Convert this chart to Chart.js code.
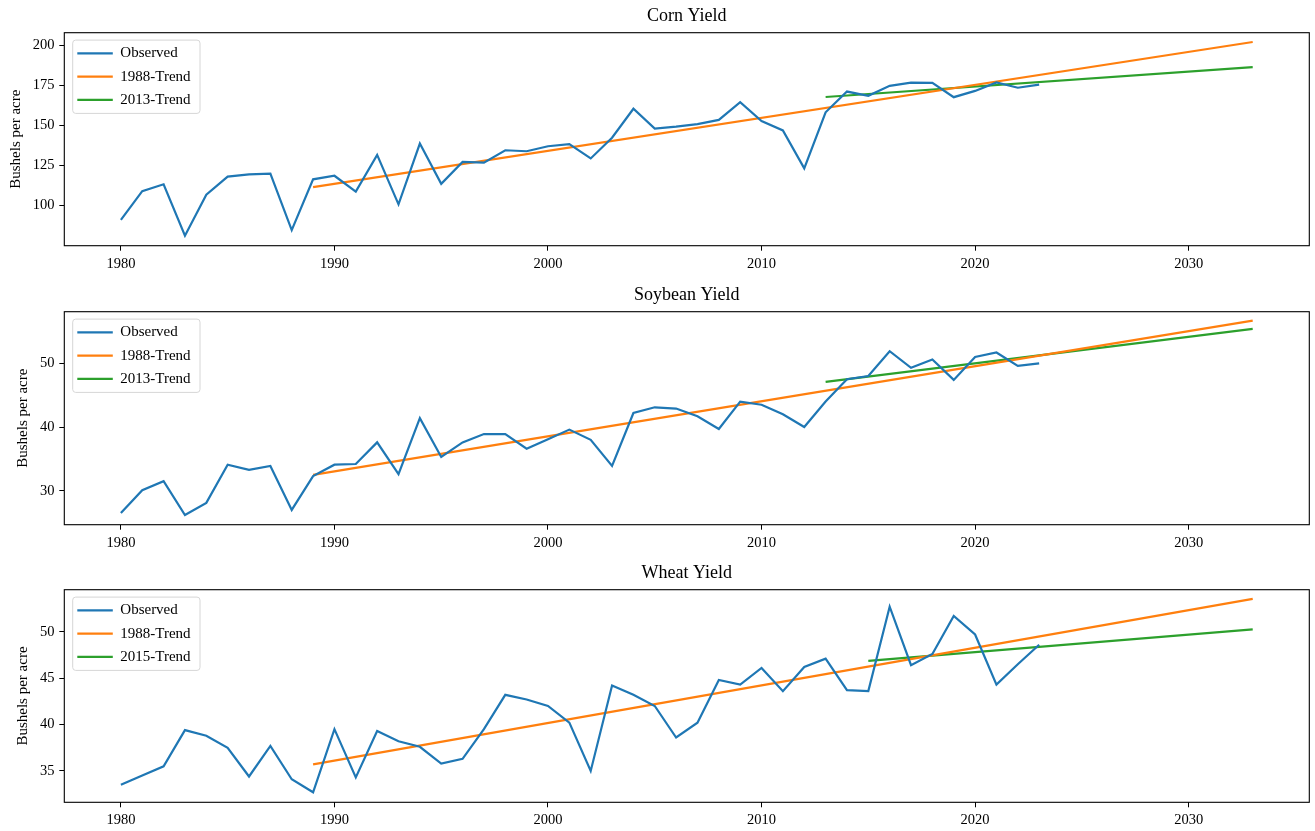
<!DOCTYPE html>
<html>
<head>
<meta charset="utf-8">
<script src="https://cdn.jsdelivr.net/npm/chart.js@4"></script>
<style>
  html, body { margin: 0; padding: 0; background: #fff; width: 1315px; height: 831px; overflow: hidden; }
  .panel { position: absolute; left: 0; width: 1315px; }
  canvas { display: block; }
</style>
</head>
<body>
<div class="panel" style="top:0px"><canvas id="c1" width="1315" height="274"></canvas></div>
<div class="panel" style="top:279px"><canvas id="c2" width="1315" height="274"></canvas></div>
<div class="panel" style="top:557px"><canvas id="c3" width="1315" height="274"></canvas></div>
<script>
// ---------- data ----------
const years = [1980, 1981, 1982, 1983, 1984, 1985, 1986, 1987, 1988, 1989,
               1990, 1991, 1992, 1993, 1994, 1995, 1996, 1997, 1998, 1999,
               2000, 2001, 2002, 2003, 2004, 2005, 2006, 2007, 2008, 2009,
               2010, 2011, 2012, 2013, 2014, 2015, 2016, 2017, 2018, 2019,
               2020, 2021, 2022, 2023];

const cornObserved = [91.0, 108.9, 113.2, 81.1, 106.7, 118.0, 119.4, 119.8, 84.6, 116.3,
                      118.5, 108.6, 131.5, 100.7, 138.6, 113.5, 127.1, 126.7, 134.4, 133.8,
                      136.9, 138.2, 129.3, 142.2, 160.3, 147.9, 149.1, 150.7, 153.3, 164.4,
                      152.6, 146.8, 123.1, 158.1, 171.0, 168.4, 174.6, 176.6, 176.4, 167.5,
                      171.4, 176.7, 173.4, 175.3];

const soyObserved = [26.5, 30.1, 31.5, 26.2, 28.1, 34.1, 33.3, 33.9, 27.0, 32.3,
                     34.1, 34.2, 37.6, 32.6, 41.4, 35.3, 37.6, 38.9, 38.9, 36.6,
                     38.1, 39.6, 38.0, 33.9, 42.2, 43.1, 42.9, 41.7, 39.7, 44.0,
                     43.5, 42.0, 40.0, 44.0, 47.5, 48.0, 51.9, 49.3, 50.6, 47.4,
                     51.0, 51.7, 49.6, 50.0];

const wheatObserved = [33.5, 34.5, 35.5, 39.4, 38.8, 37.5, 34.4, 37.7, 34.1, 32.7,
                       39.5, 34.3, 39.3, 38.2, 37.6, 35.8, 36.3, 39.5, 43.2, 42.7,
                       42.0, 40.2, 35.0, 44.2, 43.2, 42.0, 38.6, 40.2, 44.8, 44.3,
                       46.1, 43.6, 46.2, 47.1, 43.7, 43.6, 52.7, 46.4, 47.6, 51.7,
                       49.7, 44.3, 46.5, 48.6];

// trend lines (start year, end year) and their values
const trend1988Years = [1989, 2033];
const trend2013Years = [2013, 2033];
const trend2015Years = [2015, 2033];

const cornTrend1988 = [111.4, 201.9];
const cornTrend2013 = [167.6, 186.2];
const soyTrend1988 = [32.5, 56.7];
const soyTrend2013 = [47.1, 55.4];
const wheatTrend1988 = [35.7, 53.55];
const wheatTrend2015 = [46.85, 50.25];

// tick labels
const xTicks = [1980, 1990, 2000, 2010, 2020, 2030];
const cornYTicks = [100, 125, 150, 175, 200];
const soyYTicks = [30, 40, 50];
const wheatYTicks = [35, 40, 45, 50];

const titles = ['Corn Yield', 'Soybean Yield', 'Wheat Yield'];
const yLabel = 'Bushels per acre';
const seriesLabels = ['Observed', '1988-Trend'];
const lateTrendLabels = ['2013-Trend', '2013-Trend', '2015-Trend'];

// ---------- style ----------
const FONT = '"Liberation Serif", "Times New Roman", Times, serif';
const BLUE = '#1f77b4', ORANGE = '#ff7f0e', GREEN = '#2ca02c';

const toXY = (xs, ys) => xs.map((x, i) => ({ x: x, y: ys[i] }));

const framePlugin = {
  id: 'mplFrame',
  afterLayout(chart) {
    const ca = chart.chartArea;
    const lg = chart.legend;
    if (lg) {
      lg.left = ca.left + 4.7;
      lg.top = ca.top + 4.8;
      lg.right = lg.left + 200;
      lg.bottom = ca.bottom;
      lg.width = 200;
      lg.height = ca.bottom - lg.top;
    }
  },
  beforeDraw(chart) {
    const ca = chart.chartArea;
    const ctx = chart.ctx;
    const x = ca.left + 8.4, y = ca.top + 7.4, w = 127.3, h = 73.3, r = 3;
    ctx.save();
    ctx.beginPath();
    ctx.moveTo(x + r, y);
    ctx.lineTo(x + w - r, y);
    ctx.arcTo(x + w, y, x + w, y + r, r);
    ctx.lineTo(x + w, y + h - r);
    ctx.arcTo(x + w, y + h, x + w - r, y + h, r);
    ctx.lineTo(x + r, y + h);
    ctx.arcTo(x, y + h, x, y + h - r, r);
    ctx.lineTo(x, y + r);
    ctx.arcTo(x, y, x + r, y, r);
    ctx.closePath();
    ctx.fillStyle = 'rgba(255,255,255,0.8)';
    ctx.fill();
    ctx.strokeStyle = '#d6d6d6';
    ctx.lineWidth = 1;
    ctx.stroke();
    ctx.restore();
  },
  afterDatasetsDraw(chart) {
    const ca = chart.chartArea;
    const ctx = chart.ctx;
    ctx.save();
    ctx.strokeStyle = '#000';
    ctx.lineWidth = 1.1;
    ctx.strokeRect(ca.left, ca.top, ca.right - ca.left, ca.bottom - ca.top);
    ctx.restore();
  }
};

function makePanel(id, idx, obs, t1, t2Years, t2, yTicks, yMin, yMax, xAxisH, yTitlePad) {
  const ctx = document.getElementById(id).getContext('2d');
  return new Chart(ctx, {
    type: 'line',
    data: {
      datasets: [
        { label: seriesLabels[0], data: toXY(years, obs), borderColor: BLUE, backgroundColor: BLUE },
        { label: seriesLabels[1], data: toXY(trend1988Years, t1), borderColor: ORANGE, backgroundColor: ORANGE },
        { label: lateTrendLabels[idx], data: toXY(t2Years, t2), borderColor: GREEN, backgroundColor: GREEN }
      ]
    },
    options: {
      responsive: false,
      devicePixelRatio: 1,
      animation: false,
      events: [],
      layout: { padding: { left: 0, right: 5.7, top: 0, bottom: 0 } },
      elements: {
        line: { borderWidth: 2.2, tension: 0, fill: false, borderCapStyle: 'butt', borderJoinStyle: 'miter' },
        point: { radius: 0, hoverRadius: 0 }
      },
      scales: {
        x: {
          type: 'linear',
          min: 1977.35,
          max: 2035.65,
          afterBuildTicks: (s) => { s.ticks = xTicks.map(v => ({ value: v })); },
          afterFit: (s) => { s.height = xAxisH; },
          grid: { display: true, drawOnChartArea: false, drawTicks: true, tickLength: 5, color: '#000', lineWidth: 1 },
          border: { display: false },
          ticks: { color: '#000', font: { family: FONT, size: 14.5 }, padding: 4.6, maxRotation: 0, autoSkip: false,
                   callback: (v) => String(v) }
        },
        y: {
          type: 'linear',
          min: yMin,
          max: yMax,
          afterBuildTicks: (s) => { s.ticks = yTicks.map(v => ({ value: v })); },
          afterFit: (s) => { s.width = 64.3; },
          grid: { display: true, drawOnChartArea: false, drawTicks: true, tickLength: 5, color: '#000', lineWidth: 1 },
          border: { display: false },
          ticks: { color: '#000', font: { family: FONT, size: 14.5 }, padding: 4.8, autoSkip: false,
                   callback: (v) => String(v) },
          title: { display: true, text: yLabel, color: '#000', font: { family: FONT, size: 15 },
                   padding: { top: yTitlePad, bottom: 0 } }
        }
      },
      plugins: {
        title: {
          display: true, text: titles[idx], color: '#000', fullSize: false,
          font: { family: FONT, size: 18, weight: 'normal' },
          padding: { top: 5.6, bottom: 5.5 }
        },
        legend: {
          display: true, position: 'chartArea', align: 'start',
          labels: {
            color: '#000', font: { family: FONT, size: 15 },
            boxWidth: 35.5, boxHeight: 2.2, padding: 8.3,
            generateLabels: (chart) => chart.data.datasets.map((ds, i) => ({
              text: ds.label, fillStyle: ds.borderColor, strokeStyle: ds.borderColor,
              lineWidth: 0, hidden: false, datasetIndex: i, fontColor: '#000'
            }))
          }
        },
        tooltip: { enabled: false }
      }
    },
    plugins: [framePlugin]
  });
}

makePanel('c1', 0, cornObserved, cornTrend1988, trend2013Years, cornTrend2013, cornYTicks, 74.9, 207.7, 28.3, 7.4);
makePanel('c2', 1, soyObserved, soyTrend1988, trend2013Years, soyTrend2013, soyYTicks, 24.68, 58.1, 28.3, 14.4);
makePanel('c3', 2, wheatObserved, wheatTrend1988, trend2015Years, wheatTrend2015, wheatYTicks, 31.62, 54.53, 28.7, 14.4);
</script>
</body>
</html>
